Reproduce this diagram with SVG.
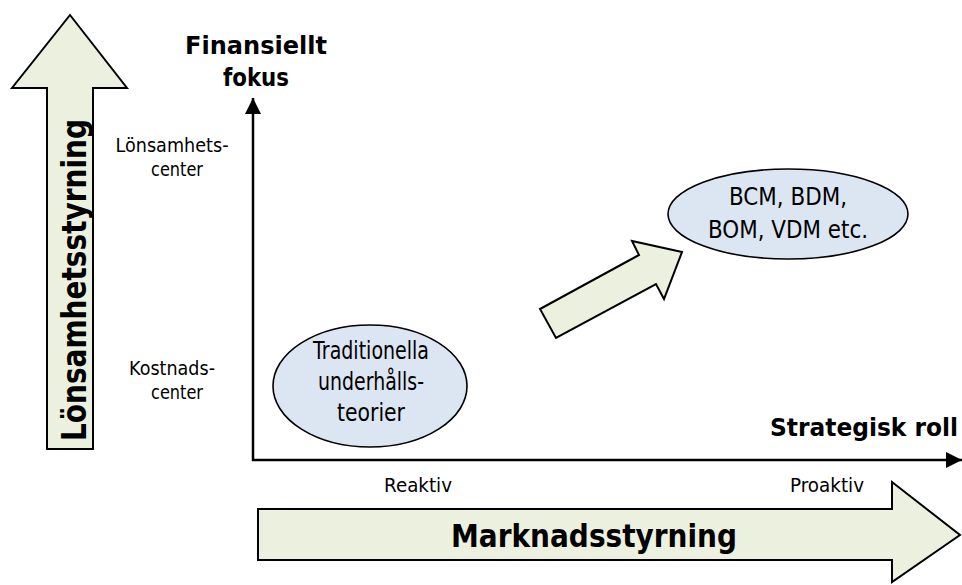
<svg xmlns="http://www.w3.org/2000/svg" width="962" height="585" viewBox="0 0 962 585">
<defs>
<style>
.t{font-family:"DejaVu Sans","Liberation Sans",sans-serif;fill:#000}
.s{font-size:19px}
.m{font-size:24px}
.n{font-size:25px}
.b{font-weight:bold}
.arw{fill:#EBF1DE;stroke:#000;stroke-width:2;stroke-linejoin:miter}
.ell{fill:#DCE6F2;stroke:#000;stroke-width:1.6}
.ax{stroke:#000;stroke-width:2.5;fill:none}
</style>
<marker id="ah" viewBox="0 0 10 10" refX="10" refY="5" markerWidth="6.6" markerHeight="6.4" orient="auto" markerUnits="strokeWidth">
<path d="M0,0 L10,5 L0,10 Z" fill="#000"/>
</marker>
</defs>
<g id="left-arrow">
<polygon class="arw" points="70,15 127,88 93,88 93,449 47,449 47,88 12,88"/>
<text class="t b" font-size="34" transform="translate(86,280) rotate(-90)" text-anchor="middle" textLength="322" lengthAdjust="spacingAndGlyphs">Lönsamhetsstyrning</text>
</g>
<g id="bottom-arrow">
<polygon class="arw" points="258,509 892,509 892,482 960,535 892,582 892,560 258,560"/>
<text class="t b" x="594" y="547" font-size="32" text-anchor="middle" textLength="286" lengthAdjust="spacingAndGlyphs">Marknadsstyrning</text>
</g>
<g id="connectors">
<line class="ax" x1="253" y1="461" x2="253" y2="98" marker-end="url(#ah)"/>
<line class="ax" x1="252" y1="460" x2="962" y2="460" marker-end="url(#ah)"/>
</g>
<g id="y-title">
<text class="t m b" x="256" y="54" text-anchor="middle" textLength="142" lengthAdjust="spacingAndGlyphs">Finansiellt</text>
<text class="t m b" x="256" y="86" text-anchor="middle" textLength="66" lengthAdjust="spacingAndGlyphs">fokus</text>
</g>
<g id="x-title">
<text class="t m b" x="958" y="436" text-anchor="end" textLength="188" lengthAdjust="spacingAndGlyphs">Strategisk roll</text>
</g>
<g id="y-labels">
<text class="t s" x="172" y="152" text-anchor="middle" textLength="113" lengthAdjust="spacingAndGlyphs">Lönsamhets-</text>
<text class="t s" x="177" y="176" text-anchor="middle" textLength="52" lengthAdjust="spacingAndGlyphs">center</text>
<text class="t s" x="172" y="375" text-anchor="middle" textLength="86" lengthAdjust="spacingAndGlyphs">Kostnads-</text>
<text class="t s" x="177" y="399" text-anchor="middle" textLength="52" lengthAdjust="spacingAndGlyphs">center</text>
</g>
<g id="x-labels">
<text class="t s" x="418" y="492" text-anchor="middle" textLength="68" lengthAdjust="spacingAndGlyphs">Reaktiv</text>
<text class="t s" x="827" y="492" text-anchor="middle" textLength="74" lengthAdjust="spacingAndGlyphs">Proaktiv</text>
</g>
<g id="node-traditionella">
<ellipse class="ell" cx="370" cy="386" rx="97" ry="61"/>
<text class="t n" x="371" y="359" text-anchor="middle" textLength="116" lengthAdjust="spacingAndGlyphs">Traditionella</text>
<text class="t n" x="371" y="390" text-anchor="middle" textLength="106" lengthAdjust="spacingAndGlyphs">underhålls-</text>
<text class="t n" x="371" y="421" text-anchor="middle" textLength="68" lengthAdjust="spacingAndGlyphs">teorier</text>
</g>
<g id="node-bcm">
<ellipse class="ell" cx="788" cy="214" rx="120" ry="45"/>
<text class="t n" x="788" y="205" text-anchor="middle" textLength="118" lengthAdjust="spacingAndGlyphs">BCM, BDM,</text>
<text class="t n" x="788" y="238" text-anchor="middle" textLength="160" lengthAdjust="spacingAndGlyphs">BOM, VDM etc.</text>
</g>
<g id="diag-arrow">
<polygon class="arw" points="540,309 639,255 632,241 682,252 664,299 656,284 556,338"/>
</g>
</svg>
